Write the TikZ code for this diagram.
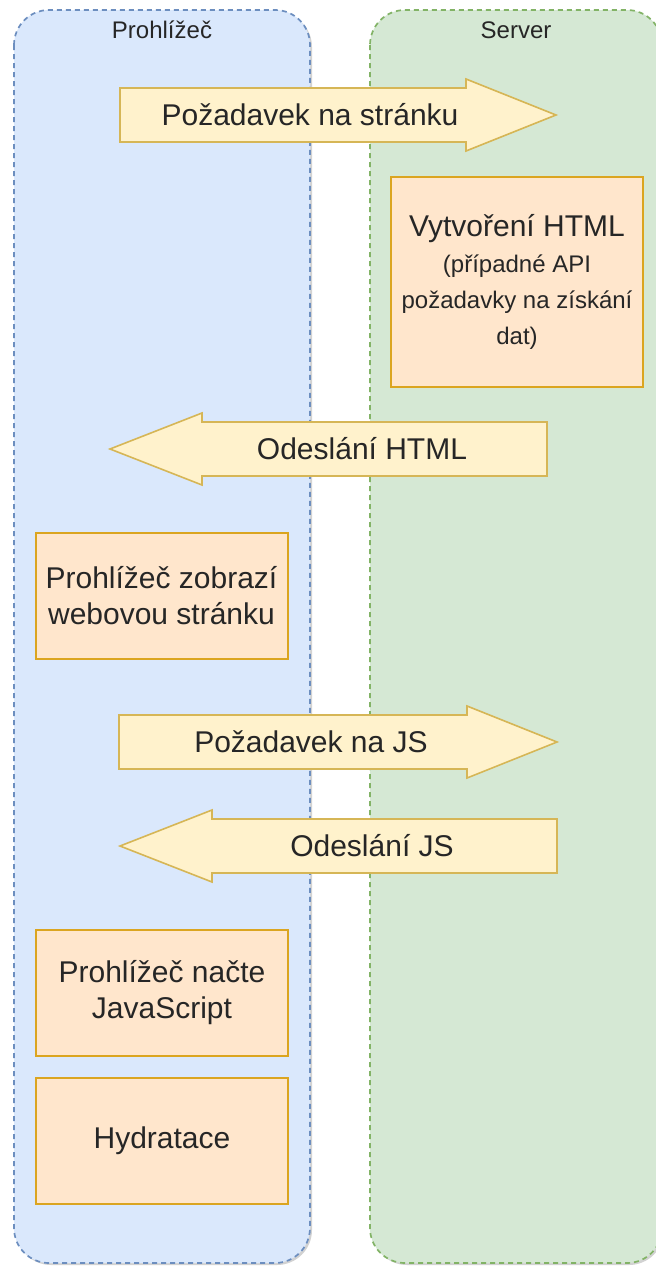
\documentclass[tikz,border=0pt]{standalone}
\usepackage{fontspec}
\setmainfont{Liberation Sans}
\usepackage{tikz}
\usetikzlibrary{calc,positioning,shadows}

\definecolor{browserfill}{HTML}{DAE8FC}
\definecolor{browserline}{HTML}{6C8EBF}
\definecolor{serverfill}{HTML}{D5E8D4}
\definecolor{serverline}{HTML}{82B366}
\definecolor{msgfill}{HTML}{FFF2CC}
\definecolor{msgline}{HTML}{D6B656}
\definecolor{stepfill}{HTML}{FFE6CC}
\definecolor{stepline}{HTML}{DBA520}

\tikzset{
	lane/.style={rounded corners=35pt, dash pattern=on 5pt off 4pt, line width=1.7pt,
		drop shadow={shadow xshift=2pt, shadow yshift=-2pt, fill=black!35, opacity=0.5}},
	lanetitle/.style={font=\fontsize{24}{28}\selectfont, text=black!85},
	msg/.style={fill=msgfill, draw=msgline, line width=1.6pt},
	msgtext/.style={font=\fontsize{30}{36}\selectfont, text=black!85},
	stepbox/.style={draw=stepline, fill=stepfill, line width=2pt, align=center,
		minimum width=252pt, minimum height=126pt, inner sep=0pt,
		font=\fontsize{30}{36}\selectfont, text=black!85}
}
\newcommand{\smalltxt}{\fontsize{24}{36}\selectfont}

\begin{document}
\begin{tikzpicture}[x=1pt,y=-1pt,node distance=20pt]
	\useasboundingbox (0,0) rectangle (656,1267);

	% lanes
	\draw[lane, fill=browserfill, draw=browserline] (14,10) rectangle (310,1263);
	\draw[lane, fill=serverfill, draw=serverline] (370,10) rectangle (662,1263);
	\node[lanetitle] (browser) at (162,30) {Prohlížeč};
	\node[lanetitle] (server) at (516,30) {Server};

	% page request ->
	\draw[msg] (120,88) -- (466,88) -- (466,79) -- (556,115) -- (466,151) -- (466,142) -- (120,142) -- cycle;
	\node[msgtext] (pagereq) at (310,115) {Požadavek na stránku};

	% server builds html
	\node[stepbox, minimum height=210pt] (buildhtml) at (517,282)
		{Vytvoření HTML\\{\smalltxt (případné API}\\{\smalltxt požadavky na získání}\\{\smalltxt dat)}};

	% <- html sent
	\draw[msg] (547,422) -- (202,422) -- (202,413) -- (110,449) -- (202,485) -- (202,476) -- (547,476) -- cycle;
	\node[msgtext] (sendhtml) at (362,449) {Odeslání HTML};

	\node[stepbox] (showpage) at (161.5,595.5) {Prohlížeč zobrazí\\webovou stránku};

	% js request ->
	\draw[msg] (119,715) -- (467,715) -- (467,706) -- (557,742) -- (467,778) -- (467,769) -- (119,769) -- cycle;
	\node[msgtext] (jsreq) at (311,742) {Požadavek na JS};

	% <- js sent
	\draw[msg] (557,819) -- (212,819) -- (212,810) -- (120,846) -- (212,882) -- (212,873) -- (557,873) -- cycle;
	\node[msgtext] (sendjs) at (372,846) {Odeslání JS};

	\node[stepbox] (loadjs) at (162,993) {Prohlížeč načte\\JavaScript};
	\node[stepbox, below=20pt of loadjs] (hydrate) {Hydratace};
\end{tikzpicture}
\end{document}
